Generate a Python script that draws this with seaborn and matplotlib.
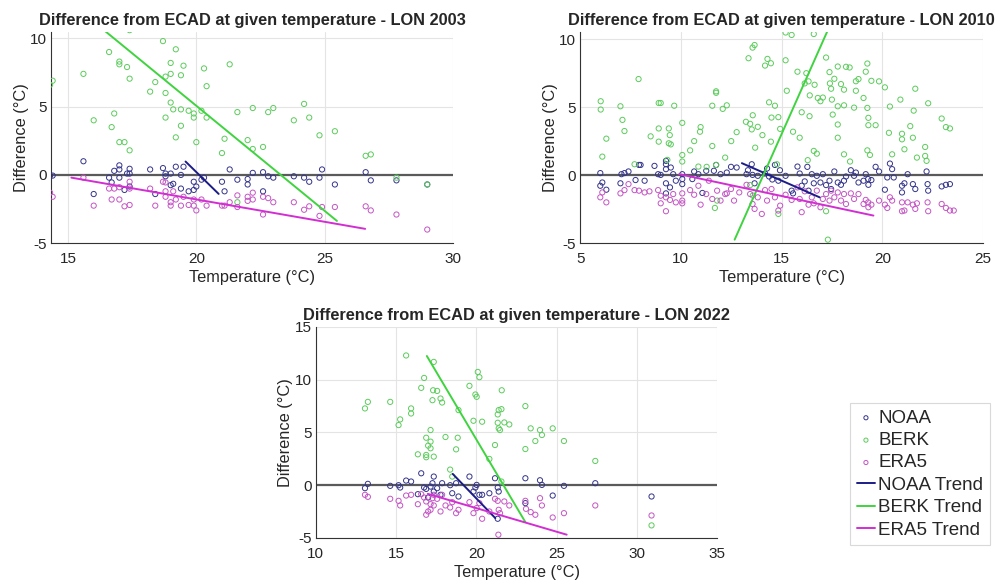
import matplotlib
matplotlib.use('Agg')
import matplotlib.pyplot as plt
import seaborn as sns
import pandas as pd

# ---- LON 2003 ----
t03_noaa = [14.3, 14.4, 15.6, 16.0, 16.6, 16.7, 16.8, 17.0, 17.0, 17.0, 17.2, 17.3, 17.4, 17.4, 17.4, 18.2, 18.4,
            18.7, 18.8, 18.8, 19.0, 19.0, 19.1, 19.2, 19.4, 19.4, 19.5, 19.7, 19.9, 19.9, 20.0, 20.2, 20.3, 21.0,
            21.1, 21.3, 21.6, 22.0, 22.0, 22.2, 22.6, 22.6, 22.8, 23.0, 23.8, 24.2, 24.4, 24.8, 24.9, 25.4, 26.6,
            26.8, 27.8, 29.0]
d03_noaa = [-0.05, -0.05, 1.0, -1.4, -0.2, -0.55, 0.3, 0.7, 0.4, -0.2, -1.1, 0.1, 0.45, 0.1, -0.85, 0.4, -1.4,
            0.5, 0.1, -0.1, 0.1, -0.75, -0.65, 0.6, 0.0, -1.0, 0.6, -1.2, -0.5, -1.1, -0.85, -0.35, -0.2, -0.5,
            -1.2, 0.4, -0.35, -0.3, -0.7, 0.15, 0.2, -1.2, -0.1, -0.2, -0.1, -0.2, -0.5, -0.2, 0.4, -0.7, 0.2,
            -0.4, -0.4, -0.7]
t03_berk = [14.3, 14.4, 15.6, 16.0, 16.6, 16.7, 16.8, 17.0, 17.0, 17.0, 17.2, 17.3, 17.4, 17.4, 17.4, 18.2, 18.4,
            18.7, 18.8, 18.8, 18.8, 19.0, 19.0, 19.0, 19.1, 19.2, 19.2, 19.4, 19.4, 19.4, 19.5, 19.7, 19.9, 19.9,
            20.0, 20.3, 20.4, 20.4, 20.2, 21.0, 21.1, 21.3, 21.6, 22.0, 22.2, 22.2, 22.6, 22.8, 23.0, 23.8, 24.2,
            24.4, 24.8, 25.4, 26.6, 26.8, 21.6, 27.8, 29.0]
d03_berk = [6.6, 6.9, 7.4, 4.0, 9.0, 3.5, 4.5, 8.3, 8.1, 2.4, 2.4, 7.9, 10.6, 7.05, 1.8, 6.1, 6.8,
            9.8, 7.2, 6.0, 4.2, 8.2, 7.4, 5.3, 4.8, 9.2, 2.75, 7.3, 4.8, 3.6, 8.0, 4.7, 4.5, 4.2,
            2.4, 7.8, 6.5, 4.2, 4.7, 1.6, 2.65, 8.1, 4.6, 2.55, 1.9, 4.9, 2.05, 4.6, 4.9, 4.0, 5.2,
            4.2, 2.9, 3.2, 1.4, 1.5, -2.0, -0.2, -0.7]
t03_era5 = [14.3, 14.4, 15.6, 16.0, 16.6, 16.7, 16.8, 17.0, 17.0, 17.2, 17.4, 17.4, 17.4, 18.2, 18.4, 18.7, 18.8,
            18.8, 18.8, 19.0, 19.0, 19.1, 19.2, 19.4, 19.5, 19.7, 19.9, 19.9, 20.0, 20.2, 20.4, 21.0, 21.1, 21.3,
            21.6, 21.6, 22.0, 22.0, 22.2, 22.2, 22.6, 22.6, 22.8, 23.0, 23.8, 24.2, 24.4, 24.8, 24.9, 25.4, 26.6,
            26.8, 27.8, 29.0]
d03_era5 = [-1.3, -1.6, -0.2, -2.25, -1.0, -1.8, -1.0, -0.9, -1.8, -2.3, -2.2, -1.0, -0.5, -1.0, -2.25, -0.5, -0.55,
            -1.2, -1.6, -2.0, -2.25, -1.2, -1.8, -2.25, -1.6, -2.2, -1.8, -2.25, -2.6, -1.8, -2.25, -2.25, -2.25, -2.0,
            -1.5, -2.35, -1.6, -1.9, -1.8, -1.3, -1.6, -2.9, -1.7, -2.0, -2.0, -2.55, -2.3, -3.0, -2.35, -2.35, -2.3,
            -2.6, -2.9, -4.0]
trend03_x = {'NOAA': [19.58, 20.87], 'BERK': [16.44, 25.48], 'ERA5': [15.13, 26.58]}
trend03_y = {'NOAA': [0.98, -1.39], 'BERK': [10.54, -3.37], 'ERA5': [-0.2, -3.95]}

# ---- LON 2010 ----
t10_noaa = [6.0, 6.0, 6.1, 6.3, 7.0, 7.05, 7.2, 7.4, 7.75, 7.92, 8.0, 8.2, 8.69, 8.87, 9.0, 9.26, 9.26, 9.26, 9.26,
            9.26, 9.46, 9.5, 9.62, 9.75, 10.07, 10.07, 10.07, 10.57, 10.66, 10.87, 11.07, 11.26, 11.64, 11.75,
            11.97, 12.28, 12.49, 12.77, 13.26, 13.33, 13.52, 13.56, 13.66, 13.82, 14.18, 14.28, 14.38, 14.54,
            14.67, 14.84, 14.92, 15.2, 15.5, 15.57, 15.79, 15.9, 16.0, 16.15, 16.28, 16.34, 16.5, 16.6, 16.75,
            16.93, 17.05, 17.21, 17.38, 17.46, 17.62, 17.79, 17.95, 18.1, 18.2, 18.44, 18.6, 18.69, 18.82, 19.07,
            19.18, 19.3, 19.31, 19.46, 19.67, 19.84, 20.13, 20.25, 20.38, 20.49, 20.57, 20.98, 20.98, 21.1, 21.26,
            21.52, 21.64, 22.2, 22.25, 22.28, 22.95, 23.16, 23.36]
d10_noaa = [0.15, -0.78, -0.54, -1.07, -0.6, 0.07, 0.15, 0.27, -0.36, 0.75, 0.75, -0.41, 0.68, 0.07, 0.02, 1.05,
            0.8, 0.44, -0.6, -1.34, -0.9, 0.56, 0.07, -0.41, 0.07, -0.29, -0.66, -0.29, 0.27, 0.07, -1.31, 0.32,
            0.32, 0.75, 0.07, 0.19, 0.61, 0.56, 0.07, 0.36, 0.8, 0.02, -0.6, -0.05, 0.12, 0.49, -0.1, -0.32, 0.75,
            -0.41, 0.36, -0.05, -1.14, -1.34, 0.63, 0.12, -0.78, -0.46, 0.61, -1.14, 0.07, -0.6, -0.05, -0.54,
            0.07, -0.73, -0.41, -1.02, 0.27, -0.54, -0.71, -0.41, -0.1, 0.36, -0.05, 0.19, -0.54, -0.41, 0.07,
            -0.29, -0.71, -0.36, 0.61, 0.27, -1.07, -0.17, 0.85, 0.44, -0.17, -0.78, -1.27, -0.6, 0.07, -0.66,
            -1.02, 0.27, -0.66, -1.14, -0.83, -0.71, -0.66]
t10_berk = [6.02, 6.02, 6.1, 6.3, 7.0, 7.1, 7.2, 7.9, 8.5, 8.9, 9.0, 8.9, 8.9, 9.4, 9.45, 9.4, 9.5, 9.67, 10.07,
            10.07, 10.07, 10.46, 10.66, 10.98, 10.95, 10.87, 11.56, 11.75, 11.75, 11.56, 12.08, 12.28, 12.2, 12.5,
            12.77, 13.23, 13.36, 13.56, 13.66, 13.44, 13.52, 13.57, 13.69, 13.82, 14.05, 14.18, 14.3, 14.47,
            14.38, 14.5, 14.47, 14.67, 14.84, 14.93, 15.2, 15.5, 15.2, 15.26, 15.57, 15.79, 15.9, 16.0, 16.15,
            16.23, 16.34, 16.39, 16.4, 16.6, 16.75, 16.6, 16.64, 16.8, 16.93, 17.05, 17.21, 17.38, 17.4, 17.46,
            17.5, 17.54, 17.79, 17.62, 17.79, 17.79, 17.79, 17.95, 18.1, 18.1, 18.1, 18.2, 18.38, 18.4, 18.6,
            18.69, 18.69, 18.82, 19.07, 19.18, 19.26, 19.26, 19.31, 19.31, 19.26, 19.39, 19.46, 19.67, 19.84,
            20.13, 20.38, 20.33, 20.49, 20.9, 20.98, 20.98, 21.1, 21.39, 21.52, 21.56, 21.64, 21.72, 22.13, 22.13,
            22.2, 22.28, 22.95, 23.16, 23.36, 17.3, 7.7, 9.33, 11.28, 11.75, 13.44, 13.57, 11.69, 11.8, 16.3,
            14.77, 17.21, 14.84]
d10_berk = [5.43, 4.82, 1.36, 2.68, 5.06, 4.06, 3.24, 7.06, 2.85, 5.3, 5.3, 3.43, 2.46, 3.43, 2.94, 2.34, 2.26,
            5.1, 3.84, 1.48, 1.0, 1.82, 2.5, 3.53, 3.19, 0.63, 5.1, 6.16, 6.05, 2.14, 4.87, 5.13, 1.29, 2.5, 3.16,
            3.92, 8.59, 9.37, 9.56, 3.77, 3.36, 4.4, 2.02, 3.55, 2.94, 8.05, 8.54, 8.22, 5.35, 4.23, 2.46, 5.1,
            4.26, 3.4, 10.48, 10.3, 8.44, 6.2, 3.19, 7.6, 2.75, 4.62, 6.74, 7.49, 6.89, 4.33, 5.86, 1.78, 1.58,
            10.37, 6.64, 5.67, 5.43, 5.7, 8.64, 7.57, 6.74, 6.35, 5.55, 4.45, 5.06, 7.08, 7.98, 3.72, 2.75, 6.69,
            6.28, 5.13, 1.53, 7.96, 7.91, 1.0, 4.96, 6.2, 6.9, 7.06, 5.67, 7.6, 8.2, 4.94, 4.21, 3.67, 1.82, 1.48,
            6.93, 3.67, 6.89, 6.45, 5.04, 3.11, 1.53, 5.55, 3.04, 2.63, 1.9, 3.6, 2.75, 4.74, 6.35, 1.29, 2.07,
            1.41, 1.05, 5.28, 4.16, 3.53, 3.43, -4.74, 0.8, 1.12, 0.61, 0.75, -0.73, -1.5, -2.41, -1.87, 1.1, 0.8,
            -2.65, -2.85]
t10_era5 = [6.0, 6.1, 6.3, 7.0, 7.2, 7.4, 7.7, 7.92, 8.2, 8.44, 8.87, 9.0, 9.0, 9.26, 9.26, 9.46, 9.62, 9.75,
            10.07, 10.07, 10.07, 10.46, 10.66, 10.87, 10.98, 11.26, 11.39, 11.56, 11.8, 11.97, 12.2, 12.28, 12.49,
            12.64, 12.9, 13.26, 13.44, 13.56, 13.66, 13.82, 14.02, 14.18, 14.28, 14.5, 14.67, 14.84, 14.93, 15.2,
            15.5, 15.79, 15.9, 16.0, 16.15, 16.34, 16.5, 16.6, 16.75, 16.93, 17.05, 17.21, 17.38, 17.46, 17.62,
            17.79, 17.95, 18.1, 18.2, 18.44, 18.6, 18.82, 19.07, 19.18, 19.3, 19.31, 19.46, 19.84, 20.13, 20.25,
            20.38, 20.49, 20.98, 20.98, 21.1, 21.26, 21.52, 21.64, 21.72, 22.25, 22.28, 22.95, 23.16, 23.36, 23.55]
d10_era5 = [-1.63, -1.27, -2.0, -1.34, -1.1, -0.66, -1.1, -1.14, -1.27, -1.19, -1.1, -1.51, -2.07, -1.63, -2.65,
            -1.82, -1.39, -2.0, -1.34, -1.87, -2.07, -1.1, -1.44, -0.78, -2.17, -1.39, -0.41, -1.75, -1.14, -1.87,
            -1.39, -1.34, -1.02, -1.87, -1.27, -0.71, -1.39, -2.12, -2.48, -1.63, -2.85, -1.1, -1.87, -1.02, -1.63,
            -2.6, -2.24, -1.44, -1.82, -0.9, -1.75, -2.72, -1.19, -2.17, -1.63, -2.07, -1.14, -2.36, -1.75, -1.39,
            -1.87, -1.14, -1.63, -1.27, -1.87, -1.39, -2.12, -1.34, -1.75, -1.39, -2.12, -1.82, -2.0, -2.36, -2.17,
            -1.87, -2.17, -2.41, -1.63, -1.87, -2.0, -2.65, -2.6, -2.0, -2.17, -2.48, -2.07, -2.0, -2.65, -2.12,
            -2.41, -2.6, -2.6]
trend10_x = {'NOAA': [13.03, 16.89], 'BERK': [12.67, 17.26], 'ERA5': [9.92, 19.56]}
trend10_y = {'NOAA': [0.88, -1.63], 'BERK': [-4.74, 10.53], 'ERA5': [0.07, -2.97]}

# ---- LON 2022 ----
t22_noaa = [13.07, 13.25, 14.64, 15.16, 15.26, 15.63, 15.94, 16.36, 16.57, 16.75, 16.88, 17.0, 17.15, 17.27, 17.35,
            17.35, 17.56, 17.77, 17.87, 18.37, 18.5, 18.89, 18.74, 19.57, 19.82, 19.94, 20.02, 20.19, 20.36, 20.81,
            21.16, 21.33, 21.39, 21.33, 23.05, 23.05, 23.96, 24.08, 24.75, 25.45, 27.4, 30.9]
d22_noaa = [-0.28, 0.13, -0.06, 0.0, -0.22, 0.44, 0.35, -0.85, 1.13, -0.22, -0.35, -1.17, -0.13, 0.19, 0.82,
            -0.6, -0.28, -0.91, 0.19, 0.0, -0.76, -1.07, 0.19, 0.82, -0.6, -0.22, 0.03, -0.91, -0.91, -0.76,
            0.66, -0.22, -0.6, -3.18, 0.66, -1.7, 0.47, 0.03, -0.98, -0.06, 0.19, -1.07]
t22_berk = [13.07, 13.25, 14.64, 15.16, 15.26, 15.63, 15.94, 15.94, 16.36, 16.57, 16.75, 16.88, 16.88, 16.88, 17.0,
            17.15, 17.15, 17.15, 17.27, 17.31, 17.35, 17.35, 17.56, 17.77, 17.87, 18.08, 18.37, 18.5, 18.74, 18.84,
            18.89, 19.57, 19.82, 19.94, 20.02, 20.09, 20.19, 20.36, 20.81, 21.16, 21.33, 21.39, 21.56, 21.33,
            21.39, 21.47, 21.58, 21.56, 21.74, 22.05, 23.05, 23.05, 23.38, 23.67, 23.96, 24.08, 24.75, 25.45,
            27.4, 30.9]
d22_berk = [7.28, 7.9, 7.9, 5.7, 6.24, 12.3, 7.28, 6.8, 2.93, 9.23, 10.17, 4.5, 2.87, 2.65, 3.75, 4.13, 3.5,
            5.23, 8.06, 9.0, 11.69, 2.71, 8.94, 8.22, 7.84, 4.57, 1.48, 0.82, 3.4, 4.5, 7.12, 9.42, 6.11, 8.6,
            8.38, 10.74, 10.24, 6.02, 2.49, 3.81, 6.71, 7.12, 7.21, 5.92, 5.39, 5.23, 9.0, 0.35, 5.95, 5.76, 7.5,
            3.43, 5.39, 4.19, 5.23, 4.76, 5.39, 4.19, 2.3, -3.81]
t22_era5 = [13.07, 13.25, 14.64, 15.16, 15.26, 15.63, 15.94, 16.36, 16.57, 16.75, 16.88, 16.88, 17.0, 17.15, 17.15,
            17.27, 17.35, 17.35, 17.56, 17.77, 17.87, 18.08, 18.37, 18.5, 18.74, 18.89, 19.57, 19.82, 20.02, 20.19,
            20.36, 20.81, 21.16, 21.33, 21.39, 21.47, 21.37, 21.74, 22.05, 23.05, 23.09, 23.38, 23.67, 23.96,
            24.08, 24.75, 25.45, 27.4, 30.9]
d22_era5 = [-0.91, -1.1, -1.29, -1.48, -1.92, -0.98, -0.91, -1.8, -0.85, -1.17, -1.54, -2.8, -2.49, -1.8, -2.33,
            -1.23, -1.92, -0.91, -1.29, -2.49, -0.91, -1.92, -2.11, -1.61, -2.65, -2.33, -1.61, -2.65, -2.17, -1.7,
            -3.18, -2.49, -1.29, -1.48, -2.33, -2.65, -4.69, -1.54, -1.92, -1.48, -2.24, -2.55, -2.8, -1.23, -1.92,
            -3.06, -2.65, -1.92, -2.87]
trend22_x = {'NOAA': [18.53, 21.18], 'BERK': [16.92, 23.05], 'ERA5': [16.98, 25.62]}
trend22_y = {'NOAA': [1.07, -3.12], 'BERK': [12.25, -3.5], 'ERA5': [-0.82, -4.69]}

series = ['NOAA', 'BERK', 'ERA5']
marker_colors = {'NOAA': '#34348c', 'BERK': '#5ccc5c', 'ERA5': '#c455c4'}
line_colors = {'NOAA': '#1c1c88', 'BERK': '#3fd43f', 'ERA5': '#d22ed2'}

sns.set_style('white')
plt.rcParams['font.family'] = ['Liberation Sans', 'DejaVu Sans']
plt.rcParams['axes.unicode_minus'] = False


def panel(ax, year, pts, trend_x, trend_y, xlim, ylim, xticks, yticks):
    for name in series:
        t, d = pts[name]
        sns.scatterplot(x=t, y=d, ax=ax, marker='o', s=14, facecolors='none',
                        edgecolor=marker_colors[name], linewidth=0.7, label=name, legend=False, zorder=3)
    ax.axhline(0, color='#5a5a5a', lw=1.6, zorder=2)
    for name in series:
        df = pd.DataFrame({'x': trend_x[name], 'y': trend_y[name]})
        sns.lineplot(data=df, x='x', y='y', ax=ax, color=line_colors[name], lw=1.4,
                     label=name + ' Trend', legend=False, zorder=4)
    ax.set_xlim(*xlim)
    ax.set_ylim(*ylim)
    ax.set_xticks(xticks)
    ax.set_yticks(yticks)
    ax.grid(True, color='#e4e4e4', lw=0.8)
    ax.set_axisbelow(True)
    for s in ['top', 'right']:
        ax.spines[s].set_visible(False)
    for s in ['left', 'bottom']:
        ax.spines[s].set_color('#333333')
        ax.spines[s].set_linewidth(0.8)
    ax.tick_params(direction='in', length=3, width=0.6, colors='#333333', labelsize=11)
    ax.tick_params(axis='x', pad=6.5)
    ax.tick_params(axis='y', pad=3)
    ax.tick_params(labelcolor='#262626')
    ax.set_xlabel('Temperature (°C)', fontsize=11.8, color='#262626', labelpad=3)
    ax.set_ylabel('Difference (°C)', fontsize=11.8, color='#262626', labelpad=1)
    ax.set_title('Difference from ECAD at given temperature - LON %d' % year,
                 fontsize=11.8, fontweight='bold', pad=5)


fig = plt.figure(figsize=(10.02, 5.86), dpi=100)
ax1 = fig.add_axes([0.051, 0.585, 0.401, 0.36])
ax2 = fig.add_axes([0.579, 0.585, 0.402, 0.36])
ax3 = fig.add_axes([0.315, 0.082, 0.401, 0.36])

panel(ax1, 2003, {'NOAA': (t03_noaa, d03_noaa), 'BERK': (t03_berk, d03_berk), 'ERA5': (t03_era5, d03_era5)},
      trend03_x, trend03_y, (14.34, 30), (-5, 10.45), [15, 20, 25, 30], [-5, 0, 5, 10])
panel(ax2, 2010, {'NOAA': (t10_noaa, d10_noaa), 'BERK': (t10_berk, d10_berk), 'ERA5': (t10_era5, d10_era5)},
      trend10_x, trend10_y, (5, 25), (-5, 10.5), [5, 10, 15, 20, 25], [-5, 0, 5, 10])
panel(ax3, 2022, {'NOAA': (t22_noaa, d22_noaa), 'BERK': (t22_berk, d22_berk), 'ERA5': (t22_era5, d22_era5)},
      trend22_x, trend22_y, (10, 35), (-5, 15), [10, 15, 20, 25, 30, 35], [-5, 0, 5, 10, 15])

handles, labels = ax3.get_legend_handles_labels()
leg = fig.legend(handles, labels, loc='upper left', bbox_to_anchor=(850 / 1002, 1 - 403 / 586),
                 borderaxespad=0, fontsize=13.5, handlelength=1.0, handletextpad=0.15,
                 labelspacing=0.28, borderpad=0.35, fancybox=False, edgecolor='#d0d0d0',
                 markerscale=0.8)
leg.get_frame().set_linewidth(0.8)

fig.savefig('out.png', dpi=100)
